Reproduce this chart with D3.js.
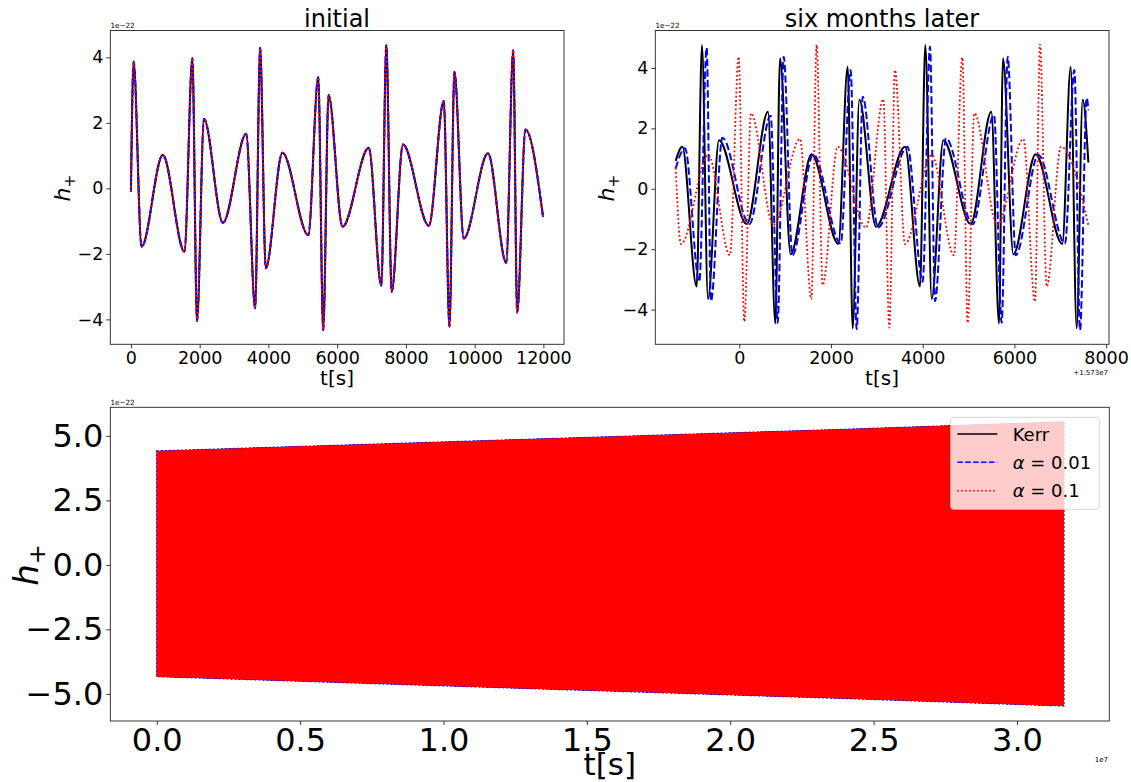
<!DOCTYPE html>
<html><head><meta charset="utf-8">
<script src="https://cdn.jsdelivr.net/npm/d3@7"></script>
<style>
body{margin:0;background:#fff;}
svg{display:block;font-family:"DejaVu Sans",sans-serif;}
</style></head><body>
<svg id="c" width="1131" height="782"></svg>
<script>
// ---------- data (h in units of 1e-22) ----------
// "initial" panel: all three waveforms coincide
const initialT = [0,78,310,928,1557,1788,1923,2126,2677,3354,3614,3759,3923,4407,5160,5450,5595,5750,6156,6919,7286,7431,7586,7914,8668,9103,9267,9412,9683,10388,10919,11122,11238,11479,11990];
const initialH = [-0.10,3.87,-1.78,1.02,-1.93,3.97,-4.05,2.12,-1.05,1.67,-3.66,4.29,-2.44,1.09,-1.43,3.39,-4.33,2.85,-1.17,1.24,-2.97,4.38,-3.16,1.34,-1.14,2.67,-4.22,3.56,-1.53,1.07,-2.27,4.22,-3.79,1.80,-0.87];

// "six months later" panel, t relative to 1.573e7 s
const laterKerrT = [-1388,-1243,-930,-814,-683,-443,161,626,786,888,1120,1578,2160,2364,2473,2618,2982,3614,3941,4057,4196,4450,5046,5497,5664,5751,5977,6464,7045,7227,7358,7489,7613];
const laterKerrH = [0.92,1.39,-3.24,4.76,-3.65,1.61,-1.17,2.55,-4.46,4.32,-2.17,1.14,-1.83,4.04,-4.62,2.95,-1.26,1.39,-3.24,4.76,-3.65,1.61,-1.17,2.55,-4.46,4.32,-2.17,1.14,-1.83,4.04,-4.62,2.95,0.87];
const laterA001T = [-1388,-1184,-872,-712,-617,-370,219,684,837,968,1157,1615,2211,2429,2560,2691,3025,3665,3999,4159,4268,4508,5090,5555,5722,5853,6028,6522,7104,7307,7431,7576,7613];
const laterA001H = [0.67,1.34,-3.08,4.67,-3.72,1.69,-1.17,2.42,-4.44,4.37,-2.20,1.14,-1.81,3.93,-4.65,3.05,-1.28,1.39,-3.08,4.70,-3.72,1.67,-1.17,2.44,-4.44,4.37,-2.20,1.12,-1.81,3.93,-4.68,3.01,2.60];
const laterA01T = [-1388,-1272,-675,-203,-14,110,255,742,1324,1571,1687,1818,2145,2763,3141,3272,3396,3614,4196,4683,4864,4981,5126,5628,6195,6449,6558,6704,7016,7613];
const laterA01H = [0.70,-1.83,1.12,-2.20,4.37,-4.40,2.50,-1.20,1.65,-3.65,4.76,-3.19,1.39,-1.29,2.97,-4.60,3.93,-1.83,1.12,-2.20,4.35,-4.44,2.50,-1.20,1.65,-3.74,4.78,-3.24,1.39,-1.20];

// full signal envelope, t in units of 1e7 s
const fullT = [0, 0.8, 1.6, 2.4, 3.164];
const fullUpper = [4.42, 4.70, 4.98, 5.26, 5.55];
const fullLower = [-4.33, -4.62, -4.90, -5.18, -5.47];

// ticks
const initialXTicks = [0,2000,4000,6000,8000,10000,12000];
const laterXTicks = [0,2000,4000,6000,8000];
const topYTicks = [-4,-2,0,2,4];
const fullXTicks = [0,0.5,1,1.5,2,2.5,3];
const fullYTicks = [-5,-2.5,0,2.5,5];

const seriesNames = ["Kerr","α = 0.01","α = 0.1"];
const seriesColors = ["#000000","#0000ff","#ff0000"];

// ---------- drawing ----------
const svg = d3.select("#c");

function zip(t,h){ return t.map((v,i)=>({t:v,h:h[i]})); }

function frame(xs, ys){
  const [x0,x1] = xs.range(), [y0,y1] = ys.range();
  svg.append("rect").attr("x",x0).attr("y",y1).attr("width",x1-x0).attr("height",y0-y1)
    .attr("fill","none").attr("stroke","#222").attr("stroke-width",0.9);
}

function axes(xs, ys, xt, yt, xf, yf, fs){
  const gx = svg.append("g").attr("transform",`translate(0,${ys.range()[0]})`)
    .call(d3.axisBottom(xs).tickValues(xt).tickFormat(xf).tickSize(4).tickPadding(3));
  const gy = svg.append("g").attr("transform",`translate(${xs.range()[0]},0)`)
    .call(d3.axisLeft(ys).tickValues(yt).tickFormat(yf).tickSize(4).tickPadding(3));
  [gx,gy].forEach(g=>{
    g.select(".domain").remove();
    g.selectAll("line").attr("stroke","#222").attr("stroke-width",0.9);
    g.selectAll("text").attr("font-size",fs).attr("fill","#000").attr("font-family","DejaVu Sans");
  });
}

function ylabel(x,y,size){
  const t = svg.append("text").attr("transform",`translate(${x},${y}) rotate(-90)`)
    .attr("text-anchor","middle").attr("font-size",size).attr("fill","#000");
  t.append("tspan").attr("font-style","italic").text("h");
  t.append("tspan").attr("font-size",size*0.7).attr("dy",size*0.22).text("+");
}
function text(x,y,s,size,anchor){
  svg.append("text").attr("x",x).attr("y",y).attr("font-size",size)
    .attr("text-anchor",anchor||"start").attr("fill","#000").text(s);
}

const styles = [
  {dash:null, w:2},
  {dash:"7.4,3.2", w:2},
  {dash:"1.8,2.4", w:1.8}
];

// ---- panel 1: initial ----
const x1s = d3.scaleLinear().domain([-600,12600]).range([110.3,564]);
const y1s = d3.scaleLinear().domain([-4.76,4.82]).range([344.3,30.5]);
const line1 = d3.line().x(d=>x1s(d.t)).y(d=>y1s(d.h)).curve(d3.curveMonotoneX);
[0,1,2].forEach(i=>{
  svg.append("path").datum(zip(initialT,initialH)).attr("d",line1)
    .attr("fill","none").attr("stroke",seriesColors[i]).attr("stroke-width",styles[i].w)
    .attr("stroke-dasharray",styles[i].dash);
});
frame(x1s,y1s);
axes(x1s,y1s,initialXTicks,topYTicks,d3.format("d"),d3.format("d"),17.5);
text(337,26.5,"initial",24,"middle");
text(337,385,"t[s]",20,"middle");
ylabel(70,188,22);
text(110.5,28,"1e−22",7.2);

// ---- panel 2: six months later ----
const x2s = d3.scaleLinear().domain([-1832,8063]).range([655.3,1109]);
const y2s = d3.scaleLinear().domain([-5.15,5.24]).range([344.3,30.5]);
const line2 = d3.line().x(d=>x2s(d.t)).y(d=>y2s(d.h)).curve(d3.curveMonotoneX);
const laterSets = [[laterKerrT,laterKerrH],[laterA001T,laterA001H],[laterA01T,laterA01H]];
laterSets.forEach((s,i)=>{
  svg.append("path").datum(zip(s[0],s[1])).attr("d",line2)
    .attr("fill","none").attr("stroke",seriesColors[i]).attr("stroke-width",styles[i].w)
    .attr("stroke-dasharray",styles[i].dash);
});
frame(x2s,y2s);
axes(x2s,y2s,laterXTicks,topYTicks,d3.format("d"),d3.format("d"),17.5);
text(882,26.5,"six months later",24,"middle");
text(882,385,"t[s]",20,"middle");
ylabel(614,188,22);
text(655.5,28,"1e−22",7.2);
text(1108,375,"+1.573e7",7,"end");

// ---- panel 3: full signal ----
const x3s = d3.scaleLinear().domain([-0.162,3.322]).range([110.3,1109.3]);
const y3s = d3.scaleLinear().domain([-6.05,6.11]).range([721,407.3]);
const env = zip(fullT,fullUpper).map((d,i)=>({t:d.t,u:d.h,l:fullLower[i]}));
const area3 = d3.area().x(d=>x3s(d.t)).y0(d=>y3s(d.l)).y1(d=>y3s(d.u));
svg.append("path").datum(env).attr("d",area3).attr("fill","#000");
svg.append("path").datum(env).attr("d",area3).attr("fill","#0000ff")
  .attr("stroke","#0000ff").attr("stroke-width",1.2).attr("stroke-dasharray","2,2");
svg.append("path").datum(env).attr("d",area3).attr("fill","#ff0000");
frame(x3s,y3s);
axes(x3s,y3s,fullXTicks,fullYTicks,d3.format(".1f"),d3.format(".1f"),32);
text(609.8,775,"t[s]",31,"middle");
ylabel(38,565,34);
text(110.5,405,"1e−22",7.2);
text(1108,762,"1e7",7,"end");

// legend
const lg = svg.append("g");
lg.append("rect").attr("x",950.7).attr("y",417.3).attr("width",148.6).attr("height",92)
  .attr("rx",3).attr("fill","#fff").attr("fill-opacity",0.8)
  .attr("stroke","#cccccc").attr("stroke-opacity",0.8).attr("stroke-width",1);
const legStyles = [{dash:null},{dash:"5.5,2.4"},{dash:"1.5,2.5"}];
seriesNames.forEach((n,i)=>{
  const y = 434 + i*28.35;
  lg.append("line").attr("x1",957.3).attr("x2",997.3).attr("y1",y).attr("y2",y)
    .attr("stroke",seriesColors[i]).attr("stroke-width",1.5).attr("stroke-dasharray",legStyles[i].dash);
  const t = lg.append("text").attr("x",1012.7).attr("y",y+6.6).attr("font-size",18).attr("fill","#000");
  if(i===0){ t.text(n); }
  else {
    t.append("tspan").attr("font-style","italic").text("α");
    t.append("tspan").text(n.slice(1));
  }
});
</script>
</body></html>
